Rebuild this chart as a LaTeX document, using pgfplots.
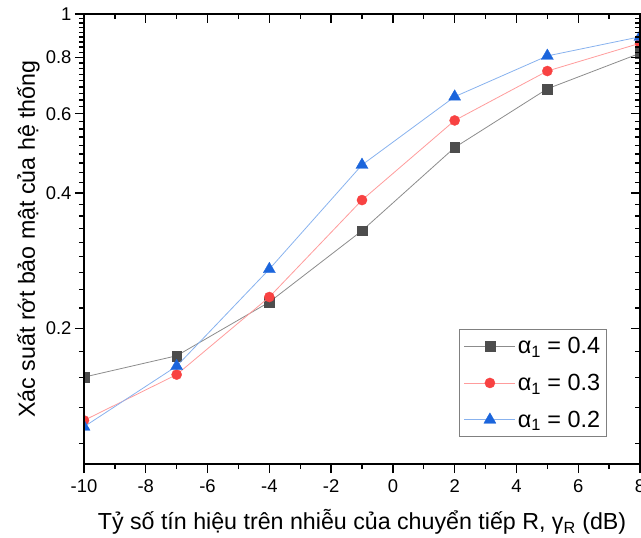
\documentclass[border=0pt]{standalone}
\usepackage{fontspec}
\setmainfont{Liberation Sans}
\usepackage{pgfplots}
\pgfplotsset{compat=1.18}
\definecolor{cgray}{HTML}{4D4D4D}
\definecolor{cgrayl}{HTML}{8C8C8C}
\definecolor{cred}{HTML}{F84242}
\definecolor{credl}{HTML}{FF9C9C}
\definecolor{cblue}{HTML}{1B65DC}
\definecolor{cbluel}{HTML}{88B2EE}
\begin{document}
\begin{tikzpicture}
\begin{axis}[
  width=556bp, height=450bp, scale only axis,
  xmin=-10, xmax=8, ymin=0.1, ymax=1, ymode=log,
  xtick={-10,-8,-6,-4,-2,0,2,4,6,8},
  minor xtick={-9,-7,-5,-3,-1,1,3,5,7},
  ytick={0.2,0.4,0.6,0.8,1},
  minor ytick={0.1111,0.1333,0.1556,0.1778,
    0.2222,0.2444,0.2667,0.2889,0.3111,0.3333,0.3556,0.3778,
    0.4222,0.4444,0.4667,0.4889,0.5111,0.5333,0.5556,0.5778,
    0.6222,0.6444,0.6667,0.6889,0.7111,0.7333,0.7556,0.7778,
    0.8222,0.8444,0.8667,0.8889,0.9111,0.9333,0.9556,0.9778},
  axis line style={line width=1.6bp, black},
  major tick length=9bp, minor tick length=5bp,
  every tick/.style={black, line width=1.3bp},
  tick align=outside, xtick pos=left, ytick pos=left,
  xticklabels={-10,-8,-6,-4,-2,0,2,4,6,8},
  yticklabels={0.2,0.4,0.6,0.8,1},
  tick label style={font=\fontsize{18.5}{22}\selectfont},
  xticklabel style={yshift=-3bp},
  xlabel={Tỷ số tín hiệu trên nhiễu của chuyển tiếp R, γ\textsubscript{R} (dB)},
  ylabel={Xác suất rớt bảo mật của hệ thống},
  label style={font=\fontsize{23.3}{28}\selectfont},
  xlabel style={at={(rel axis cs:0.5,0)}, anchor=base, yshift=-65.3bp},
  ylabel style={at={([xshift=-49bp]rel axis cs:0,0.5)}, anchor=base},
  clip marker paths=true,
  legend cell align=left,
  legend style={at={(rel axis cs:0.9406,0.06)}, anchor=south east,
    draw=gray, line width=0.6bp, font=\fontsize{23.5}{28}\selectfont,
    row sep=15bp, inner xsep=4.5bp, inner ysep=6bp},
  legend image code/.code={
    \draw[mark repeat=2,mark phase=2,#1] plot coordinates {(0bp,0bp) (25.5bp,0bp) (51bp,0bp)};
  },
]
\coordinate (sw) at (rel axis cs:0,0);
\coordinate (ne) at (rel axis cs:1,1);
\addplot[cgrayl, line width=0.8bp, mark=square*, mark size=4.9bp,
  mark options={fill=cgray, draw=cgray, line width=0.3bp}]
  coordinates {(-10,0.156) (-7,0.174) (-4,0.229) (-1,0.330) (2,0.505) (5,0.682) (8,0.818)};
\addlegendentry{α\textsubscript{1} = 0.4}
\addplot[credl, line width=0.8bp, mark=*, mark size=5.1bp,
  mark options={fill=cred, draw=cred, line width=0.3bp}]
  coordinates {(-10,0.125) (-7,0.158) (-4,0.235) (-1,0.386) (2,0.580) (5,0.747) (8,0.861)};
\addlegendentry{α\textsubscript{1} = 0.3}
\addplot[cbluel, line width=0.8bp, mark=triangle*, mark size=7bp,
  mark options={fill=cblue, draw=cblue, line width=0.3bp}]
  coordinates {(-10,0.121) (-7,0.165) (-4,0.271) (-1,0.462) (2,0.655) (5,0.807) (8,0.890)};
\addlegendentry{α\textsubscript{1} = 0.2}
\end{axis}
\begin{axis}[
  width=556bp, height=450bp, scale only axis,
  xmin=-10, xmax=8, ymin=0.1, ymax=1, ymode=log,
  xtick={-10,-8,-6,-4,-2,0,2,4,6,8},
  minor xtick={-9,-7,-5,-3,-1,1,3,5,7},
  ytick={0.2,0.4,0.6,0.8,1},
  minor ytick={0.1111,0.1333,0.1556,0.1778,
    0.2222,0.2444,0.2667,0.2889,0.3111,0.3333,0.3556,0.3778,
    0.4222,0.4444,0.4667,0.4889,0.5111,0.5333,0.5556,0.5778,
    0.6222,0.6444,0.6667,0.6889,0.7111,0.7333,0.7556,0.7778,
    0.8222,0.8444,0.8667,0.8889,0.9111,0.9333,0.9556,0.9778},
  axis line style={line width=1.6bp, black},
  major tick length=9bp, minor tick length=5bp,
  every tick/.style={black, line width=1.3bp},
  tick align=inside, xtick pos=right, ytick pos=right,
  xticklabels={}, yticklabels={},
]
\end{axis}
\pgfresetboundingbox
\path ([shift={(-84bp,-74bp)}]sw) rectangle ([shift={(1bp,14bp)}]ne);
\end{tikzpicture}
\end{document}
